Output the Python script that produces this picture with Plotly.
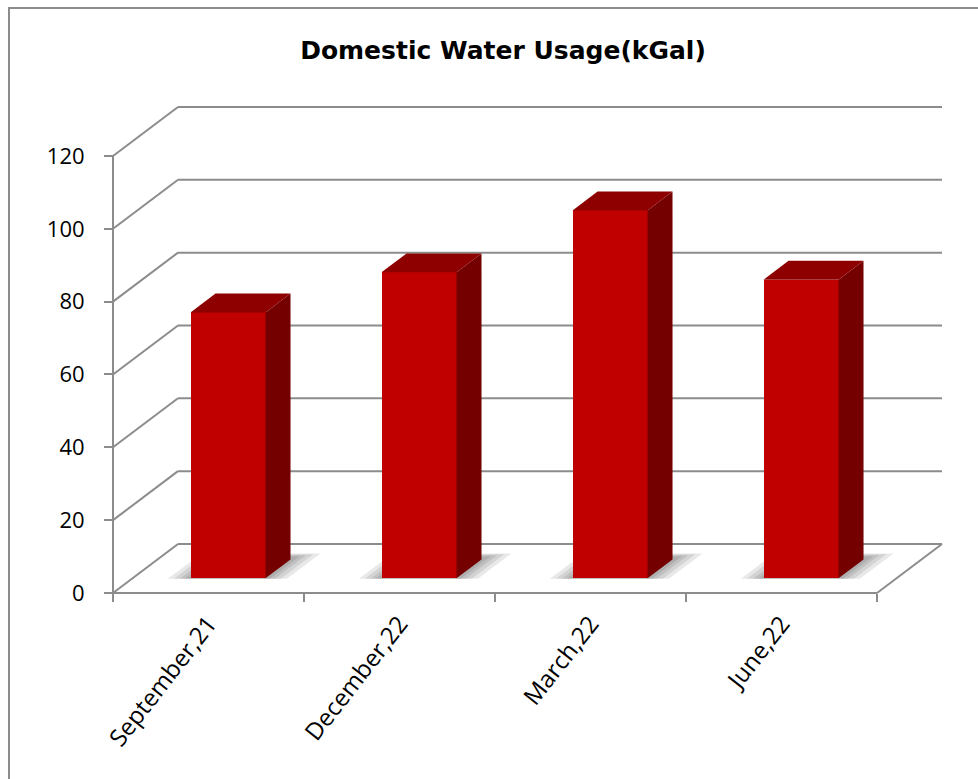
import plotly.graph_objects as go

# ---------------- data ----------------
categories = ["September,21", "December,22", "March,22", "June,22"]
usage = [73, 84, 101, 82]
y_ticks = [0, 20, 40, 60, 80, 100, 120]
title_text = "Domestic Water Usage(kGal)"

# ---------------- geometry ----------------
W, H = 978, 779
PLOT_L, PLOT_R, PLOT_T, PLOT_B = 100, 944, 100, 604   # plot area in px
AX_X_PX, AX_Y_PX = 113, 593                            # origin of the 3D frame in px
PX_X = 191.0      # px per category
PX_Y = 3.642      # px per value unit
X0 = -0.5
XEND = len(categories) - 0.5
DX = 65 / PX_X    # depth offset (x units)
DY = 49 / PX_Y    # depth offset (y units)
F_FRONT = 0.30    # bar front plane depth fraction
F_DEPTH = 0.385   # bar depth fraction
HALF = 37.5 / PX_X

def px2x(px):
    return X0 + (px - AX_X_PX) / PX_X

def py2y(py):
    return (AX_Y_PX - py) / PX_Y

xr = [px2x(PLOT_L), px2x(PLOT_R)]
yr = [py2y(PLOT_B), py2y(PLOT_T)]
plot_w = PLOT_R - PLOT_L
plot_h = PLOT_B - PLOT_T

GRID = "#8c8c8c"
FRONT = "#C00000"
TOP = "#8E0000"
SIDE = "#740000"
FONT = "Open Sans"

def proj(x, f, y=0.0):
    return x + f * DX, y + f * DY

shapes = []

# floor shadows (soft, layered)
for i, v in enumerate(usage):
    for k, e in enumerate([22, 16, 10, 5]):
        ex = e / PX_X
        f0, f1 = F_FRONT - 0.01, F_FRONT + F_DEPTH + 0.05 + e / 300
        pts = [proj(i - HALF - ex, f0), proj(i + HALF + ex, f0),
               proj(i + HALF + ex, f1), proj(i - HALF - ex, f1)]
        path = "M " + " L ".join(f"{a},{b}" for a, b in pts) + " Z"
        shapes.append(dict(type="path", path=path, xref="x", yref="y",
                           fillcolor="rgba(0,0,0,0.09)", line=dict(width=0),
                           layer="below"))

# back wall gridlines and left wall diagonals
for t in y_ticks:
    shapes.append(dict(type="line", xref="x", yref="y", x0=X0, y0=t,
                       x1=X0 + DX, y1=t + DY, line=dict(color=GRID, width=2), layer="below"))
    shapes.append(dict(type="line", xref="x", yref="y", x0=X0 + DX, y0=t + DY,
                       x1=XEND + DX, y1=t + DY, line=dict(color=GRID, width=2), layer="below"))
# floor right edge
shapes.append(dict(type="line", xref="x", yref="y", x0=XEND, y0=0,
                   x1=XEND + DX, y1=DY, line=dict(color=GRID, width=2), layer="below"))
# axis lines
shapes.append(dict(type="line", xref="x", yref="y", x0=X0, y0=0, x1=XEND, y1=0,
                   line=dict(color=GRID, width=2), layer="below"))
shapes.append(dict(type="line", xref="x", yref="y", x0=X0, y0=0, x1=X0, y1=max(y_ticks),
                   line=dict(color=GRID, width=2), layer="below"))

# chart border (extends past right/bottom edges)
def pxx(px):
    return (px - PLOT_L) / plot_w

def pxy(py):
    return (PLOT_B - py) / plot_h

shapes.append(dict(type="rect", xref="paper", yref="paper",
                   x0=pxx(9), x1=pxx(W + 20), y0=pxy(8), y1=pxy(H + 20),
                   line=dict(color="#8c8c8c", width=2), fillcolor="rgba(0,0,0,0)",
                   layer="above"))

fig = go.Figure()

base = F_FRONT * DY
fig.add_trace(go.Bar(
    x=[i + F_FRONT * DX for i in range(len(categories))],
    y=usage, base=base, width=2 * HALF,
    marker=dict(color=FRONT, line=dict(width=0)),
    hoverinfo="skip", showlegend=False))

for i, v in enumerate(usage):
    cx = i + F_FRONT * DX
    xl, xrr = cx - HALF, cx + HALF
    ddx, ddy = F_DEPTH * DX, F_DEPTH * DY
    top_y = base + v
    # side face
    fig.add_trace(go.Scatter(
        x=[xrr, xrr + ddx, xrr + ddx, xrr, xrr],
        y=[base, base + ddy, top_y + ddy, top_y, base],
        fill="toself", fillcolor=SIDE, mode="lines", line=dict(width=0, color=SIDE),
        hoverinfo="skip", showlegend=False))
    # top face
    fig.add_trace(go.Scatter(
        x=[xl, xrr, xrr + ddx, xl + ddx, xl],
        y=[top_y, top_y, top_y + ddy, top_y + ddy, top_y],
        fill="toself", fillcolor=TOP, mode="lines", line=dict(width=0, color=TOP),
        hoverinfo="skip", showlegend=False))

fig.update_layout(
    width=W, height=H,
    margin=dict(l=PLOT_L, r=W - PLOT_R, t=PLOT_T, b=H - PLOT_B, pad=0),
    paper_bgcolor="white", plot_bgcolor="white",
    shapes=shapes,
    title=dict(text="<b>" + title_text + "</b>", x=503 / W, xref="container",
               xanchor="center", y=1 - 50 / H, yref="container", yanchor="middle",
               font=dict(family="DejaVu Sans", size=25, color="black")),
    xaxis=dict(range=xr, tickvals=list(range(len(categories))), ticktext=categories,
               tickangle=-52, ticks="", showgrid=False, zeroline=False, showline=False,
               anchor="free", position=(PLOT_B - AX_Y_PX) / plot_h,
               ticklabelstandoff=11,
               tickfont=dict(family=FONT, size=24, color="black"),
               minor=dict(tickvals=[k - 0.5 for k in range(len(categories) + 1)],
                          ticks="outside", ticklen=8, tickwidth=2, tickcolor=GRID,
                          showgrid=False)),
    yaxis=dict(range=yr, tickvals=y_ticks, ticks="outside", ticklen=9, tickwidth=2,
               tickcolor=GRID, showgrid=False, zeroline=False, showline=False,
               anchor="free", position=(AX_X_PX - PLOT_L) / plot_w,
               ticklabelstandoff=15,
               tickfont=dict(family=FONT, size=22, color="black")),
    bargap=0,
)

fig.write_html("out.html")
